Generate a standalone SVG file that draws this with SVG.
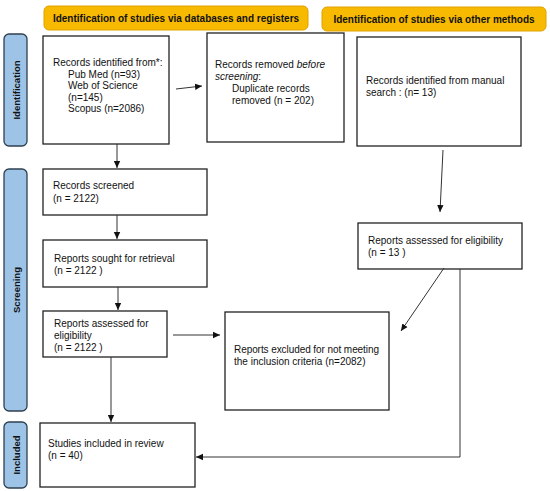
<svg xmlns="http://www.w3.org/2000/svg" width="550" height="491" viewBox="0 0 550 491">
<defs>
<marker id="ah" markerWidth="8" markerHeight="8" refX="7" refY="4" orient="auto" markerUnits="userSpaceOnUse">
<path d="M0,0.8 L7,4 L0,7.2 z" fill="#111"/>
</marker>
<style>
.box{fill:#fff;stroke:#222;stroke-width:1.3}
.hdr{fill:#F7BA00;stroke:#E0A200;stroke-width:1}
.side{fill:#9DC3E6;stroke:#2F4050;stroke-width:1.3}
.t{font-family:"Liberation Sans",Arial,sans-serif;font-size:10px;fill:#111}
.hb{font-family:"Liberation Sans",Arial,sans-serif;font-size:10px;font-weight:bold;fill:#111;text-anchor:middle}
.sb{font-family:"Liberation Sans",Arial,sans-serif;font-size:9.5px;font-weight:bold;fill:#111;text-anchor:middle}
.c{fill:none;stroke:#333;stroke-width:1}
</style>
</defs>
<rect width="550" height="491" fill="#fff"/>
<g id="header1"><rect class="hdr" x="44" y="6" width="264" height="24" rx="5"/><text class="hb" x="176" y="22">Identification of studies via databases and registers</text></g>
<g id="header2"><rect class="hdr" x="322" y="7" width="224" height="24" rx="5"/><text class="hb" x="434" y="23">Identification of studies via other methods</text></g>
<g id="side-identification"><rect class="side" x="4" y="34" width="23" height="112" rx="5"/><text class="sb" transform="translate(19.5,90) rotate(-90)">Identification</text></g>
<g id="side-screening"><rect class="side" x="4" y="169" width="23" height="242" rx="5"/><text class="sb" transform="translate(19.5,290) rotate(-90)">Screening</text></g>
<g id="side-included"><rect class="side" x="4" y="422" width="23" height="66" rx="5"/><text class="sb" transform="translate(19.5,455) rotate(-90)">Included</text></g>
<g id="records-identified"><rect class="box" x="43" y="36" width="126" height="108"/>
<text class="t" x="53" y="66">Records identified from*:</text>
<text class="t" x="68" y="77.5">Pub Med (n=93)</text>
<text class="t" x="68" y="89">Web of Science</text>
<text class="t" x="68" y="100.5">(n=145)</text>
<text class="t" x="68" y="112">Scopus (n=2086)</text></g>
<g id="records-removed"><rect class="box" x="207" y="33" width="137" height="109"/>
<text class="t" x="215" y="68">Records removed <tspan font-style="italic">before</tspan></text>
<text class="t" x="215" y="80"><tspan font-style="italic">screening</tspan>:</text>
<text class="t" x="232" y="92">Duplicate records</text>
<text class="t" x="232" y="103.5">removed  (n = 202)</text></g>
<g id="manual-search"><rect class="box" x="357" y="37" width="164" height="109"/>
<text class="t" x="366" y="84">Records identified from manual</text>
<text class="t" x="366" y="95.5">search : (n= 13)</text></g>
<g id="records-screened"><rect class="box" x="43" y="169" width="164" height="46"/>
<text class="t" x="53" y="189">Records screened</text>
<text class="t" x="53" y="201.5">(n = 2122)</text></g>
<g id="reports-sought"><rect class="box" x="43" y="240" width="164" height="47"/>
<text class="t" x="54" y="262">Reports sought for retrieval</text>
<text class="t" x="54" y="274">(n = 2122 )</text></g>
<g id="reports-assessed"><rect class="box" x="43" y="311" width="124" height="46"/>
<text class="t" x="54" y="327">Reports assessed for</text>
<text class="t" x="54" y="339">eligibility</text>
<text class="t" x="54" y="351">(n = 2122 )</text></g>
<g id="reports-assessed-other"><rect class="box" x="358" y="223" width="164" height="46"/>
<text class="t" x="368" y="244">Reports assessed for eligibility</text>
<text class="t" x="368" y="256">(n = 13 )</text></g>
<g id="reports-excluded"><rect class="box" x="225" y="312" width="164" height="98"/>
<text class="t" x="234" y="353" textLength="145">Reports excluded for not meeting</text>
<text class="t" x="234" y="365">the inclusion criteria (n=2082)</text></g>
<g id="studies-included"><rect class="box" x="40" y="423" width="155" height="64"/>
<text class="t" x="48" y="447">Studies included in review</text>
<text class="t" x="48" y="459">(n = 40)</text></g>
<g id="connectors">
<line class="c" x1="117" y1="144" x2="117" y2="168" marker-end="url(#ah)"/>
<line class="c" x1="176" y1="89" x2="202" y2="86" marker-end="url(#ah)"/>
<line class="c" x1="117" y1="215" x2="117" y2="239" marker-end="url(#ah)"/>
<line class="c" x1="118" y1="287" x2="118" y2="310" marker-end="url(#ah)"/>
<line class="c" x1="111" y1="357" x2="111" y2="422" marker-end="url(#ah)"/>
<line class="c" x1="173" y1="335" x2="220" y2="335" marker-end="url(#ah)"/>
<line class="c" x1="443" y1="150" x2="440" y2="212" marker-end="url(#ah)"/>
<line class="c" x1="444" y1="268" x2="401" y2="331" marker-end="url(#ah)"/>
<polyline class="c" points="460,269 460,457 196,457" marker-end="url(#ah)"/>
</g>
</svg>
